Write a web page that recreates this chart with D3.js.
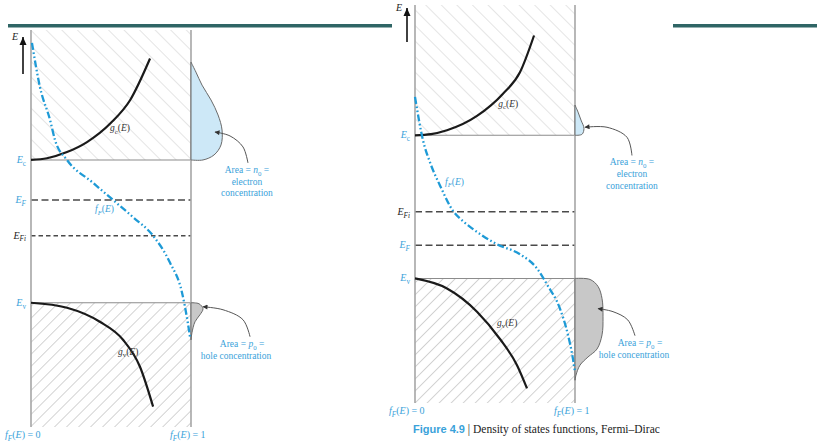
<!DOCTYPE html>
<html>
<head>
<meta charset="utf-8">
<script src="https://cdn.jsdelivr.net/npm/d3@7"></script>
<style>
  body { margin: 0; background: #fff; }
  svg { display: block; font-family: "Liberation Serif", "Times New Roman", serif; }
</style>
</head>
<body>
<svg id="chart" width="817" height="444"></svg>
<script>
// Energy levels (Ev = 0, Ec = 1), order: Ec, EF, EFi, Ev
const levelNames = ['Ec', 'EF', 'EFi', 'Ev'];
const levelsA = [1.0, 0.72, 0.47, 0.0];
const levelsB = [1.0, 0.232, 0.465, 0.0];

// Curves as [x (0..1 across panel), E]
const gcA = [[0, 1.0], [0.1, 1.012], [0.225, 1.055], [0.35, 1.125], [0.5, 1.26], [0.62, 1.42], [0.744, 1.71]];
const gvA = [[0, 0], [0.225, -0.035], [0.43, -0.133], [0.575, -0.259], [0.681, -0.448], [0.763, -0.727]];
const fA = [[0.006, 1.82], [0.056, 1.51], [0.119, 1.28], [0.15, 1.14], [0.225, 1.0], [0.3875, 0.84],
  [0.5125, 0.72], [0.6375, 0.60], [0.7625, 0.47], [0.869, 0.28], [0.944, 0.07], [0.98, -0.14], [0.994, -0.24]];
// carrier distributions, [n (width right of panel), E]
const nA = [[0, 1.685], [0.031, 1.615], [0.069, 1.524], [0.125, 1.42], [0.169, 1.315], [0.194, 1.21],
  [0.1875, 1.105], [0.144, 1.035], [0.075, 1.0], [0, 1.0]];
const pA = [[0, 0], [0.05, -0.007], [0.075, -0.042], [0.056, -0.084], [0.025, -0.133], [0.006, -0.21], [0, -0.26]];

const gcB = [[0, 1.0], [0.1, 1.008], [0.2, 1.035], [0.3875, 1.135], [0.55, 1.29], [0.656, 1.44], [0.744, 1.697]];
const gvB = [[0, 0], [0.2, -0.07], [0.3875, -0.232], [0.531, -0.423], [0.6375, -0.606], [0.7, -0.768]];
const fB = [[0, 1.268], [0.05, 0.965], [0.094, 0.81], [0.156, 0.65], [0.2375, 0.472], [0.3, 0.4], [0.3625, 0.345],
  [0.5125, 0.239], [0.656, 0.169], [0.7625, 0.07], [0.825, -0.042], [0.906, -0.211], [0.956, -0.394],
  [0.9875, -0.563], [1.0, -0.655]];
const nB = [[0, 1.211], [0.019, 1.162], [0.0375, 1.106], [0.056, 1.049], [0.044, 1.007], [0, 1.0]];
const pB = [[0, 0], [0.094, -0.007], [0.144, -0.056], [0.169, -0.141], [0.175, -0.268], [0.169, -0.394],
  [0.1375, -0.493], [0.081, -0.549], [0.031, -0.606], [0.006, -0.676], [0, -0.711]];

// Leader lines to the area labels, [n, E], from label to arrow tip
const nLeadA = [[0.356, 0.979], [0.325, 1.091], [0.244, 1.168], [0.15, 1.196]];
const pLeadA = [[0.369, -0.238], [0.325, -0.119], [0.2, -0.049], [0.075, -0.028]];
const nLeadB = [[0.356, 0.859], [0.325, 0.986], [0.2, 1.056], [0.0625, 1.056]];
const pLeadB = [[0.375, -0.40], [0.33, -0.29], [0.2375, -0.232], [0.144, -0.211]];

const energyDomain = [-0.87, 1.91];

const BLUE = '#1e9ad6';
const TEXT_BLUE = '#3aa2da';
const TEAL = '#2f6565';

const svg = d3.select('#chart');
const defs = svg.append('defs');

// hatch patterns
function hatch(id, size, angle, color, width) {
  const p = defs.append('pattern')
    .attr('id', id)
    .attr('patternUnits', 'userSpaceOnUse')
    .attr('width', size).attr('height', size)
    .attr('patternTransform', `rotate(${angle})`);
  p.append('line')
    .attr('x1', 0).attr('y1', 0).attr('x2', 0).attr('y2', size)
    .attr('stroke', color).attr('stroke-width', width);
}
hatch('hatchC', 11, -45, '#d4d4d4', 1.2);
hatch('hatchV', 8.5, 45, '#b0b0b0', 1.1);

defs.append('marker')
  .attr('id', 'arrowTip')
  .attr('viewBox', '0 0 10 10')
  .attr('refX', 9).attr('refY', 5)
  .attr('markerWidth', 6).attr('markerHeight', 5)
  .attr('markerUnits', 'userSpaceOnUse')
  .attr('orient', 'auto')
  .append('path').attr('d', 'M0,0 L10,5 L0,10 Z').attr('fill', '#333');

// slide header bars
const bars = [[8, 392], [673, 817]];
svg.selectAll('rect.bar').data(bars).enter().append('rect')
  .attr('class', 'bar')
  .attr('x', d => d[0]).attr('y', 24)
  .attr('width', d => d[1] - d[0]).attr('height', 3.5)
  .attr('fill', TEAL);

// text helper: parts = [text, 'i' | 'sub' | 'isub' | '']
function richText(g, x, y, parts, color, size, anchor) {
  const t = g.append('text')
    .attr('x', x).attr('y', y)
    .attr('fill', color)
    .attr('font-size', size)
    .attr('text-anchor', anchor || 'start');
  let shifted = false;
  parts.forEach(([s, st]) => {
    const span = t.append('tspan').text(s);
    const isSub = st === 'sub' || st === 'isub';
    if (st === 'i' || st === 'isub') span.attr('font-style', 'italic');
    if (isSub && !shifted) { span.attr('dy', size * 0.28).attr('font-size', size * 0.72); shifted = true; }
    else if (isSub) span.attr('font-size', size * 0.72);
    else if (shifted) { span.attr('dy', -size * 0.28); shifted = false; }
  });
  return t;
}

const fParts = [['f', 'i'], ['F', 'isub'], ['(', ''], ['E', 'i'], [')', '']];
const levelParts = {
  Ec: [['E', 'i'], ['c', 'sub']],
  EF: [['E', 'i'], ['F', 'isub']],
  EFi: [['E', 'i'], ['Fi', 'isub']],
  Ev: [['E', 'i'], ['v', 'sub']]
};
const levelColor = { Ec: TEXT_BLUE, EF: TEXT_BLUE, EFi: '#222', Ev: TEXT_BLUE };

function drawPanel(cfg) {
  const g = svg.append('g');
  const x = d3.scaleLinear().domain([0, 1]).range([cfg.x0, cfg.x1]);
  const y = d3.scaleLinear().domain(energyDomain).range([cfg.y1, cfg.y0]);
  const xd = d3.scaleLinear().domain([0, 1]).range([cfg.x1, cfg.x1 + (cfg.x1 - cfg.x0)]);
  const lv = {};
  levelNames.forEach((n, i) => { lv[n] = cfg.levels[i]; });

  // hatched bands
  g.append('rect')
    .attr('x', x(0)).attr('y', y(energyDomain[1]))
    .attr('width', x(1) - x(0)).attr('height', y(lv.Ec) - y(energyDomain[1]))
    .attr('fill', 'url(#hatchC)');
  g.append('rect')
    .attr('x', x(0)).attr('y', y(lv.Ev))
    .attr('width', x(1) - x(0)).attr('height', y(energyDomain[0]) - y(lv.Ev))
    .attr('fill', 'url(#hatchV)');

  // band edges
  ['Ec', 'Ev'].forEach(k => {
    g.append('line')
      .attr('x1', x(0)).attr('x2', x(1))
      .attr('y1', y(lv[k])).attr('y2', y(lv[k]))
      .attr('stroke', '#8c8c8c').attr('stroke-width', 1.1);
  });
  // Fermi levels
  [['EF', cfg.efDash], ['EFi', cfg.efiDash]].forEach(([k, dash]) => {
    g.append('line')
      .attr('x1', x(0)).attr('x2', x(1))
      .attr('y1', y(lv[k])).attr('y2', y(lv[k]))
      .attr('stroke', '#4a4a4a').attr('stroke-width', 1.5)
      .attr('stroke-dasharray', dash);
  });

  // panel sides
  [0, 1].forEach(v => {
    g.append('line')
      .attr('x1', x(v)).attr('x2', x(v))
      .attr('y1', y(energyDomain[1])).attr('y2', y(energyDomain[0]))
      .attr('stroke', '#a6a6a6').attr('stroke-width', 1.6);
  });

  // carrier distributions
  const area = d3.line().x(d => xd(d[0])).y(d => y(d[1])).curve(d3.curveCatmullRom.alpha(0.5));
  g.append('path').attr('d', area(cfg.n) + 'Z')
    .attr('fill', '#cde8f7').attr('stroke', '#6a6a6a').attr('stroke-width', 1);
  g.append('path').attr('d', area(cfg.p) + 'Z')
    .attr('fill', '#c8c8c8').attr('stroke', '#6a6a6a').attr('stroke-width', 1);

  // density of states
  const line = d3.line().x(d => x(d[0])).y(d => y(d[1])).curve(d3.curveMonotoneX);
  [cfg.gc, cfg.gv].forEach(data => {
    g.append('path').attr('d', line(data))
      .attr('fill', 'none').attr('stroke', '#1a1a1a').attr('stroke-width', 2.2);
  });
  // Fermi-Dirac
  g.append('path').attr('d', line(cfg.f))
    .attr('fill', 'none').attr('stroke', BLUE).attr('stroke-width', 2.3)
    .attr('stroke-dasharray', '7,2.5,1.6,2.5,1.6,2.5');

  // leaders
  [cfg.nLead, cfg.pLead].forEach(data => {
    g.append('path').attr('d', area(data))
      .attr('fill', 'none').attr('stroke', '#555').attr('stroke-width', 1)
      .attr('marker-end', 'url(#arrowTip)');
  });

  // E axis arrow
  g.append('line')
    .attr('x1', x(0) - 8).attr('x2', x(0) - 8)
    .attr('y1', cfg.y0 + cfg.arrow[1]).attr('y2', cfg.y0 + cfg.arrow[0])
    .attr('stroke', '#111').attr('stroke-width', 1.6);
  g.append('path')
    .attr('d', d3.line()([[x(0) - 11.5, cfg.y0 + cfg.arrow[0] + 8], [x(0) - 8, cfg.y0 + cfg.arrow[0]], [x(0) - 4.5, cfg.y0 + cfg.arrow[0] + 8]]) + 'Z')
    .attr('fill', '#111');
  richText(g, x(0) - 19, cfg.y0 + cfg.arrow[0] + 3, [['E', 'i']], '#222', 10);

  // level labels
  levelNames.forEach(k => {
    richText(g, x(0) - 5, y(lv[k]) + 3, levelParts[k], levelColor[k], 10, 'end');
  });

  // curve labels
  richText(g, x(cfg.gcLabel[0]), y(cfg.gcLabel[1]), [['g', 'i'], ['c', 'sub'], ['(', ''], ['E', 'i'], [')', '']], '#333', 9.5);
  richText(g, x(cfg.gvLabel[0]), y(cfg.gvLabel[1]), [['g', 'i'], ['v', 'sub'], ['(', ''], ['E', 'i'], [')', '']], '#333', 9.5);
  richText(g, x(cfg.fLabel[0]), y(cfg.fLabel[1]), fParts, TEXT_BLUE, 9.5);

  // area labels
  const ns = cfg.nLead[0], ps = cfg.pLead[0];
  const nx = xd(ns[0]) + cfg.nShift, ny = y(ns[1]);
  richText(g, nx, ny + 10, [['Area = ', ''], ['n', 'i'], ['0', 'sub'], [' =', '']], TEXT_BLUE, 9.5, 'middle');
  richText(g, nx, ny + 22, [['electron', '']], TEXT_BLUE, 9.5, 'middle');
  richText(g, nx, ny + 33.5, [['concentration', '']], TEXT_BLUE, 9.5, 'middle');
  const px = xd(ps[0]) + cfg.pShift, py = y(ps[1]);
  richText(g, px, py + 10.5, [['Area = ', ''], ['p', 'i'], ['0', 'sub'], [' =', '']], TEXT_BLUE, 9.5, 'middle');
  richText(g, px - cfg.pShift2, py + 22.5, [['hole concentration', '']], TEXT_BLUE, 9.5, 'middle');

  // f = 0 / f = 1
  richText(g, x(0) - 26, cfg.y1 + 11, fParts.concat([[' = 0', '']]), TEXT_BLUE, 10);
  richText(g, x(1) - 21, cfg.y1 + 11, fParts.concat([[' = 1', '']]), TEXT_BLUE, 10);
}

drawPanel({
  x0: 31, x1: 191, y0: 30, y1: 427,
  levels: levelsA, gc: gcA, gv: gvA, f: fA, n: nA, p: pA,
  nLead: nLeadA, pLead: pLeadA, nShift: -1, pShift: -8, pShift2: 6,
  gcLabel: [0.494, 1.2], gvLabel: [0.544, -0.364], fLabel: [0.4, 0.636],
  efDash: '7,3.5', efiDash: '4.5,3', arrow: [7, 44]
});

drawPanel({
  x0: 415, x1: 575, y0: 5, y1: 403,
  levels: levelsB, gc: gcB, gv: gvB, f: fB, n: nB, p: pB,
  nLead: nLeadB, pLead: pLeadB, nShift: 0, pShift: 5, pShift2: 6,
  gcLabel: [0.52, 1.2], gvLabel: [0.5125, -0.331], fLabel: [0.1875, 0.655],
  efDash: '7,3.5', efiDash: '7,3.5', arrow: [3, 37]
});

// caption
const cap = svg.append('text').attr('x', 413).attr('y', 433).attr('font-size', 11.5).attr('fill', '#222');
cap.append('tspan').text('Figure 4.9').attr('fill', TEXT_BLUE).attr('font-weight', 'bold')
  .attr('font-family', '"Liberation Sans", Arial, sans-serif').attr('font-size', 11);
cap.append('tspan').text(' | Density of states functions, Fermi–Dirac');
</script>
</body>
</html>
